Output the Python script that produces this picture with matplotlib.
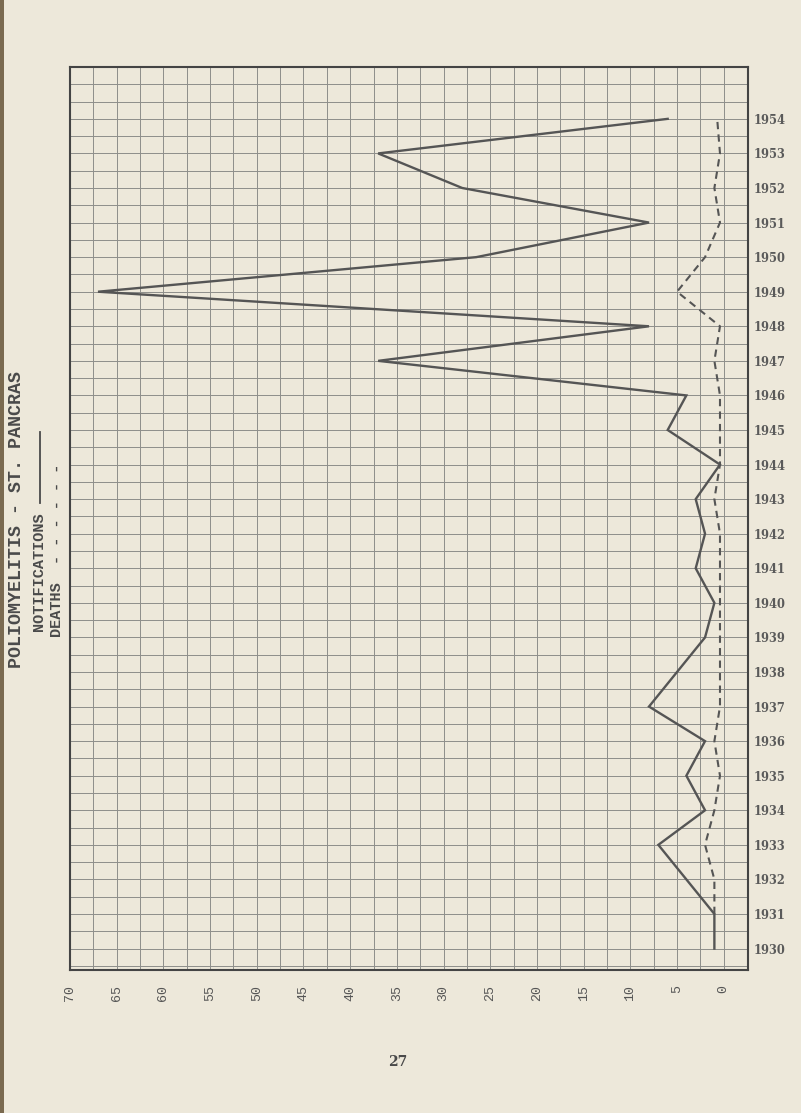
import numpy as np
import matplotlib
matplotlib.use("Agg")
import matplotlib.pyplot as plt
from matplotlib.lines import Line2D
from matplotlib.patches import Rectangle

# ---- data ----
years = list(range(1930, 1955))
notifications = [1, 1, 4, 7, 2, 4, 2, 8, 5, 2, 1, 3, 2, 3, 0.4, 6, 4, 37, 8, 67, 26.5, 8, 28, 37, 6]
death_years = list(range(1931, 1955))
deaths = [1, 1, 2, 1, 0.4, 1, 0.4, 0.4, 0.4, 0.4, 0.4, 0.4, 1, 0.4, 0.4, 0.4, 1, 0.4, 5, 2, 0.4, 1, 0.4, 0.7]
value_ticks = list(range(0, 75, 5))
value_labels = [str(v) for v in value_ticks]
year_labels = [str(y) for y in years]

title = "POLIOMYELITIS - ST. PANCRAS"
notif_label = "NOTIFICATIONS"
death_label = "DEATHS  - - - - - -"
page_number = "27"

W, H = 801, 1113
BG = "#ede8da"
INK = "#555555"
GRID = "#8e8e8a"

fig = plt.figure(figsize=(W / 100, H / 100), dpi=100, facecolor=BG)

def fx(x):
    return x / W

def fy(y):
    return 1 - y / H

# binding shadow on left edge
fig.patches.append(Rectangle((0, 0), fx(4), 1, transform=fig.transFigure,
                             facecolor="#7a6a50", edgecolor="none", zorder=0))

ax = fig.add_axes([fx(70), fy(970), fx(748) - fx(70), fy(67) - fy(970)])
ax.set_facecolor(BG)
ax.set_xlim(70, -2.6)
ax.set_ylim(1929.38, 1955.5)

ax.set_xticks(value_ticks)
ax.set_xticklabels(value_labels, rotation=90, family="Liberation Mono",
                   fontsize=9.5, color=INK)
ax.set_xticks(np.arange(-2.5, 70, 2.5), minor=True)
ax.set_yticks(years)
ax.set_yticklabels(year_labels, family="DejaVu Serif", fontweight="bold",
                   fontsize=8.3, color="#5a5a5a")
ax.set_yticks(np.arange(1929.5, 1955.5, 0.5), minor=True)
ax.yaxis.tick_right()
ax.tick_params(axis="both", which="both", length=0)
ax.tick_params(axis="x", pad=11)
ax.tick_params(axis="y", pad=4)
ax.grid(True, which="both", color=GRID, linewidth=0.7)
ax.set_axisbelow(True)
for s in ax.spines.values():
    s.set_color("#444444")
    s.set_linewidth(1.5)

ax.plot(notifications, years, color=INK, linewidth=1.7, solid_joinstyle="miter")
ax.plot(deaths, death_years, color=INK, linewidth=1.5, dashes=(3.5, 2.5))

# title & legend text (rotated)
fig.text(fx(17), fy(520), title, rotation=90, ha="center", va="center",
         family="Liberation Mono", fontweight="bold", fontsize=13.2, color="#4a4a4a")
fig.text(fx(39), fy(572), notif_label, rotation=90, ha="center", va="center",
         family="Liberation Mono", fontweight="bold", fontsize=11, color="#4a4a4a")
fig.lines.append(Line2D([fx(40), fx(40)], [fy(503), fy(432)], transform=fig.transFigure,
                        color="#4a4a4a", linewidth=1.3))
fig.text(fx(57), fy(550), death_label, rotation=90, ha="center", va="center",
         family="Liberation Mono", fontweight="bold", fontsize=11, color="#4a4a4a")

fig.text(fx(398), fy(1062), page_number, ha="center", va="center",
         family="DejaVu Serif", fontweight="bold", fontsize=10, color="#4a4a4a")

fig.savefig("out.png", dpi=100, facecolor=BG)
